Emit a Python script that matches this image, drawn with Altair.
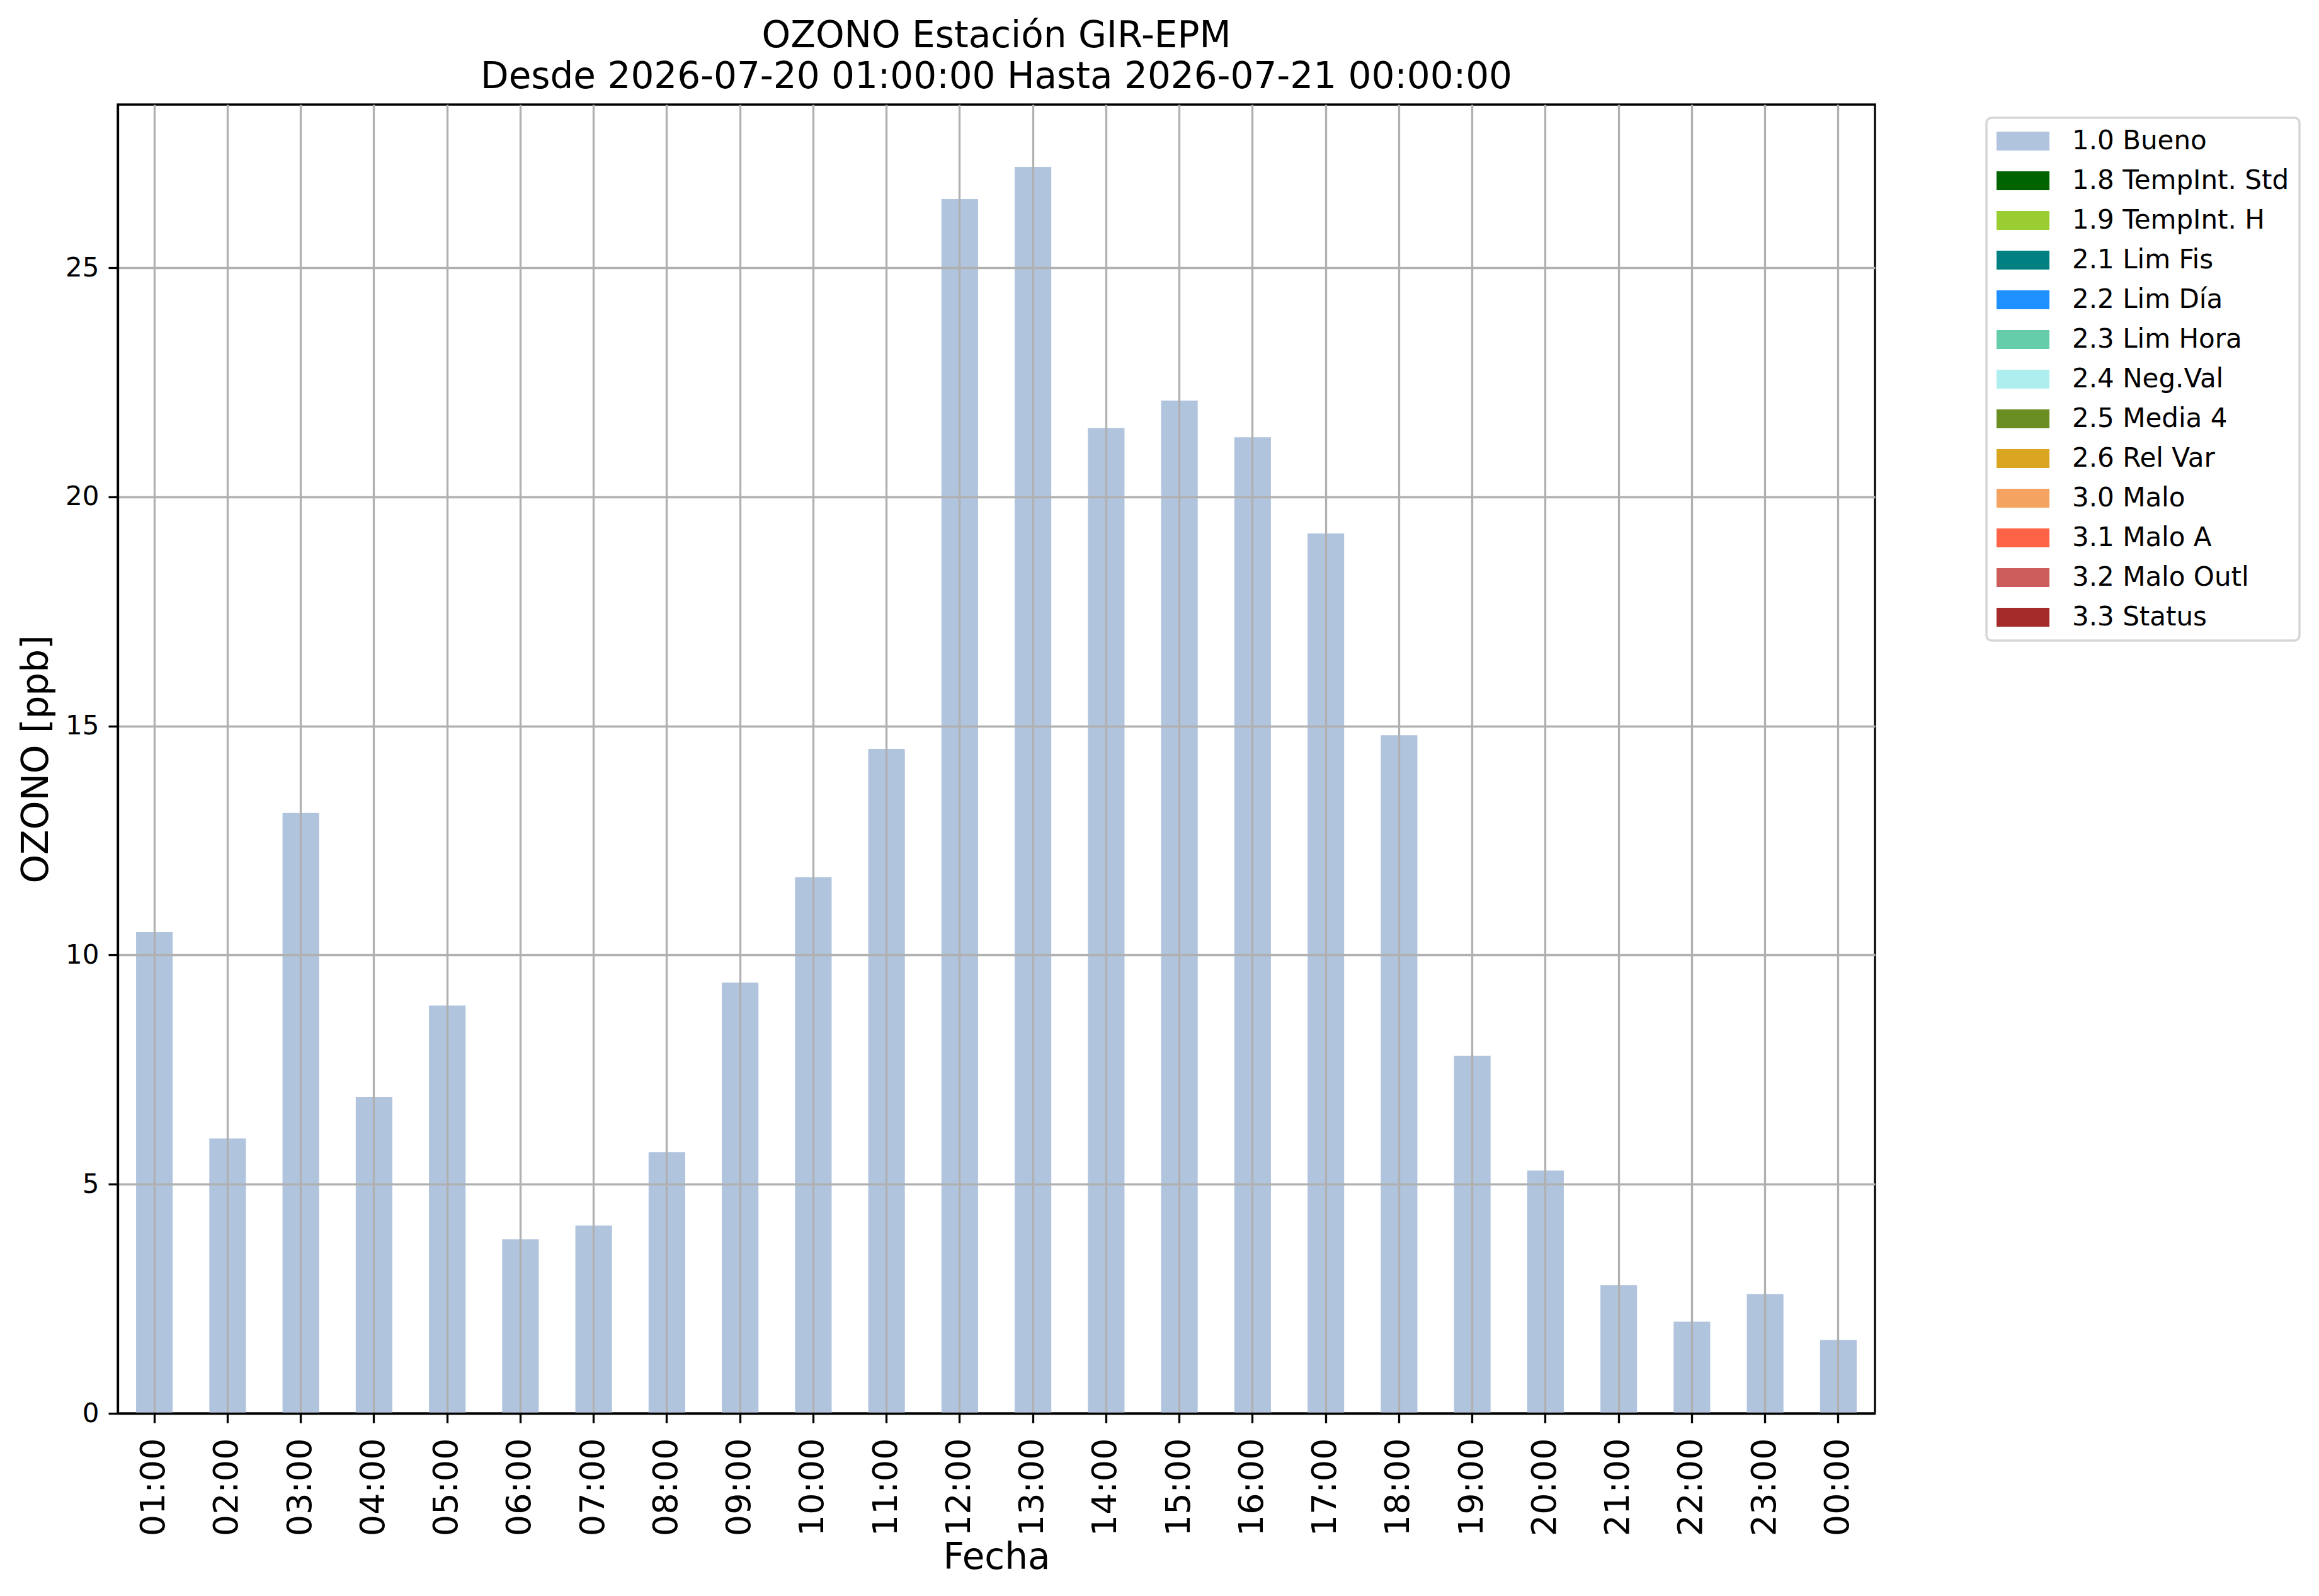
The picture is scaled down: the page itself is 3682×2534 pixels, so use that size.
import altair as alt
import pandas as pd

hours = ["01:00", "02:00", "03:00", "04:00", "05:00", "06:00", "07:00", "08:00",
         "09:00", "10:00", "11:00", "12:00", "13:00", "14:00", "15:00", "16:00",
         "17:00", "18:00", "19:00", "20:00", "21:00", "22:00", "23:00", "00:00"]
bueno = [10.5, 6.0, 13.1, 6.9, 8.9, 3.8, 4.1, 5.7, 9.4, 11.7, 14.5, 26.5,
         27.2, 21.5, 22.1, 21.3, 19.2, 14.8, 7.8, 5.3, 2.8, 2.0, 2.6, 1.6]

flags = ["1.0 Bueno", "1.8 TempInt. Std", "1.9 TempInt. H", "2.1 Lim Fis",
         "2.2 Lim Día", "2.3 Lim Hora", "2.4 Neg.Val", "2.5 Media 4",
         "2.6 Rel Var", "3.0 Malo", "3.1 Malo A", "3.2 Malo Outl", "3.3 Status"]
flag_colors = ["#B0C4DE", "#006400", "#9ACD32", "#008080", "#1E90FF", "#66CDAA",
               "#AFEEEE", "#6B8E23", "#DAA520", "#F4A460", "#FF6347", "#CD5C5C",
               "#A52A2A"]

y_max = 28.56
title_lines = ["OZONO Estación GIR-EPM",
               "Desde 2026-07-20 01:00:00 Hasta 2026-07-21 00:00:00"]

df = pd.DataFrame({"Fecha": hours, "valor": bueno, "flag": [flags[0]] * len(hours)})

FONT = "DejaVu Sans"
LW = 3.3

chart = alt.Chart(df).mark_bar().encode(
    x=alt.X("Fecha:N", sort=hours,
            scale=alt.Scale(paddingInner=0.5, paddingOuter=0.25),
            axis=alt.Axis(title="Fecha", labelAngle=-90, labelFontSize=54,
                          labelPadding=24, tickSize=15, bandPosition=0.5,
                          titleFontSize=58, titlePadding=6, grid=True, zindex=1)),
    y=alt.Y("valor:Q", stack=True,
            scale=alt.Scale(domain=[0, y_max], nice=False, zero=True),
            axis=alt.Axis(title="OZONO [ppb]", values=[0, 5, 10, 15, 20, 25],
                          labelFontSize=42, labelPadding=15, tickSize=15,
                          titleFontSize=58, titlePadding=16, grid=True, zindex=1)),
    color=alt.Color("flag:N",
                    scale=alt.Scale(domain=flags, range=flag_colors),
                    sort=flags,
                    legend=alt.Legend(title=None, orient="none", legendX=2967, legendY=21,
                                      symbolType="M-2,-0.714L2,-0.714L2,0.714L-2,0.714Z",
                                      symbolSize=1764, symbolOffset=21,
                                      symbolStrokeWidth=0, labelFontSize=42,
                                      labelOffset=57, rowPadding=21, padding=16,
                                      strokeColor="#d6d6d6", fillColor="white",
                                      cornerRadius=8, labelLimit=1000)),
).properties(
    width=2790,
    height=2078,
    title=alt.TitleParams(text=title_lines, fontSize=58, font=FONT,
                          fontWeight="normal", anchor="middle", frame="group",
                          offset=14, lineHeight=65, color="black"),
    padding={"left": 179, "top": 158, "right": 690, "bottom": 280},
    autosize=alt.AutoSizeParams(type="none"),
).configure(
    font=FONT,
).configure_view(
    stroke="black", strokeWidth=LW,
).configure_axis(
    labelFont=FONT, titleFont=FONT, labelColor="black", titleColor="black",
    titleFontWeight="normal", gridColor="#b0b0b0", gridWidth=LW, gridOpacity=1,
    tickColor="black", tickWidth=LW, domainColor="black", domainWidth=LW,
).configure_legend(
    labelFont=FONT, labelColor="black", strokeWidth=3.5,
)

chart.save("out.html", embed_options={"renderer": "svg", "actions": False})
